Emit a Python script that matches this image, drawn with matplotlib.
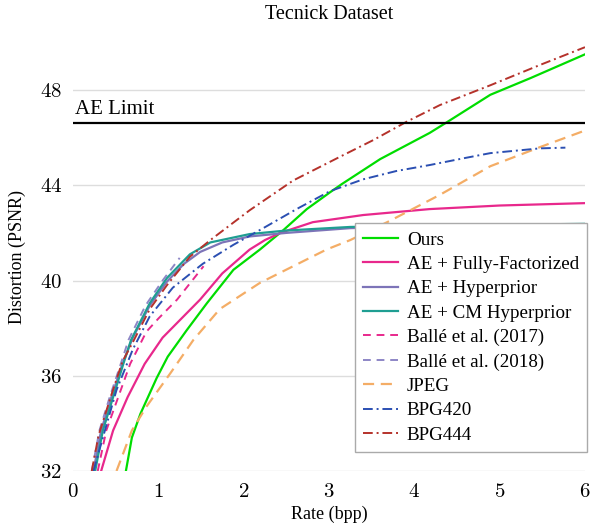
""" Rate-distortion curves on the Tecnick dataset
"""
import matplotlib
matplotlib.use('Agg')
import matplotlib.pyplot as plt
from matplotlib.ticker import FuncFormatter

# rate (bpp) / PSNR pairs
ours_rate = [0.62, 0.69, 0.79, 0.98, 1.11, 1.33, 1.57, 1.88, 2.19, 2.46, 2.74, 3.01, 3.07, 3.15, 3.60, 4.18, 4.36, 4.89, 5.36, 6.0]
ours_psnr = [32.0, 33.4, 34.4, 35.9, 36.8, 37.9, 39.05, 40.45, 41.3, 42.1, 43.0, 43.7, 43.85, 44.05, 45.1, 46.2, 46.6, 47.8, 48.5, 49.5]

ff_rate = [0.33, 0.47, 0.64, 0.84, 1.05, 1.49, 1.75, 2.07, 2.25, 2.43, 2.81, 3.4, 4.18, 5.0, 6.0]
ff_psnr = [32.0, 33.7, 35.1, 36.5, 37.6, 39.2, 40.3, 41.3, 41.7, 42.0, 42.45, 42.75, 43.0, 43.15, 43.25]

hyper_rate = [0.24, 0.33, 0.45, 0.58, 0.70, 0.90, 1.10, 1.30, 1.49, 1.75, 2.07, 2.5, 3.25, 4.5, 6.0]
hyper_psnr = [32.0, 33.7, 35.1, 36.5, 37.6, 38.95, 39.95, 40.7, 41.2, 41.6, 41.85, 42.0, 42.2, 42.3, 42.35]

cm_rate = [0.26, 0.35, 0.47, 0.59, 0.68, 0.90, 1.10, 1.37, 1.61, 2.07, 2.5, 3.25, 4.5, 6.0]
cm_psnr = [32.0, 33.7, 35.1, 36.5, 37.5, 39.05, 40.1, 41.1, 41.6, 41.95, 42.1, 42.25, 42.32, 42.38]

balle17_rate = [0.29, 0.39, 0.53, 0.67, 0.86, 1.0, 1.22, 1.53]
balle17_psnr = [32.0, 33.7, 35.1, 36.5, 37.85, 38.4, 39.2, 40.6]

balle18_rate = [0.22, 0.31, 0.43, 0.56, 0.65, 0.85, 1.05, 1.25]
balle18_psnr = [32.0, 33.7, 35.1, 36.5, 37.5, 38.95, 40.0, 40.95]

jpeg_rate = [0.51, 0.69, 0.86, 1.14, 1.41, 1.72, 2.19, 2.58, 2.97, 3.25, 3.71, 4.30, 4.89, 5.47, 6.0]
jpeg_psnr = [32.0, 33.7, 34.7, 36.1, 37.5, 38.8, 39.9, 40.6, 41.3, 41.7, 42.5, 43.6, 44.8, 45.6, 46.3]

bpg420_rate = [0.24, 0.35, 0.51, 0.70, 0.90, 1.17, 1.52, 1.88, 2.23, 2.62, 3.01, 3.40, 3.79, 4.18, 4.60, 4.89, 5.47, 5.77]
bpg420_psnr = [32.0, 33.4, 35.4, 37.1, 38.5, 39.7, 40.7, 41.5, 42.2, 43.0, 43.75, 44.25, 44.6, 44.85, 45.15, 45.35, 45.55, 45.58]

bpg444_rate = [0.22, 0.30, 0.45, 0.58, 0.70, 0.90, 1.10, 1.37, 1.61, 2.07, 2.58, 3.13, 3.52, 3.91, 4.30, 4.89, 5.47, 6.0]
bpg444_psnr = [32.0, 33.5, 35.2, 36.6, 37.4, 38.8, 39.8, 41.0, 41.7, 42.95, 44.2, 45.2, 45.9, 46.67, 47.37, 48.2, 49.05, 49.8]

ae_limit = 46.6

x_ticks = [0, 1, 2, 3, 4, 5, 6]
y_ticks = [32, 36, 40, 44, 48]

plt.rcParams['font.family'] = ['Liberation Serif', 'DejaVu Serif']
plt.rcParams['mathtext.fontset'] = 'cm'

fig = plt.figure(figsize=(5.92, 5.27), dpi=100)
ax = fig.add_axes([0.1233, 0.1063, 0.8649, 0.8132])

ax.plot(ours_rate, ours_psnr, color='#00dd00', lw=1.6, label='Ours')
ax.plot(ff_rate, ff_psnr, color='#e8288c', lw=1.6, label='AE + Fully-Factorized')
ax.plot(hyper_rate, hyper_psnr, color='#7d74b8', lw=1.6, label='AE + Hyperprior')
ax.plot(cm_rate, cm_psnr, color='#1f9e92', lw=1.6, label='AE + CM Hyperprior')
ax.plot(balle17_rate, balle17_psnr, color='#e8288c', lw=1.4, ls=(0, (4, 3)), label='Ballé et al. (2017)')
ax.plot(balle18_rate, balle18_psnr, color='#8d86c6', lw=1.4, ls=(0, (4, 3)), label='Ballé et al. (2018)')
ax.plot(jpeg_rate, jpeg_psnr, color='#f4ad66', lw=1.6, ls=(0, (5, 3)), label='JPEG')
ax.plot(bpg420_rate, bpg420_psnr, color='#2b4fb2', lw=1.4, ls=(0, (5, 2, 1, 2)), label='BPG420')
ax.plot(bpg444_rate, bpg444_psnr, color='#b5322b', lw=1.4, ls=(0, (5, 2, 1, 2)), label='BPG444')

ax.axhline(ae_limit, color='black', lw=1.6)
ax.text(0.02, ae_limit + 0.2, 'AE Limit', fontsize=15, va='bottom', ha='left')

ax.set_xlim(0, 6)
ax.set_ylim(32, 50)
ax.set_xticks(x_ticks)
ax.set_yticks(y_ticks)
ax.xaxis.set_major_formatter(FuncFormatter(lambda v, pos: r'$%d$' % v))
ax.yaxis.set_major_formatter(FuncFormatter(lambda v, pos: r'$%d$' % v))
ax.tick_params(length=0, labelsize=15)
ax.tick_params(axis='x', pad=9)
ax.tick_params(axis='y', pad=8)
ax.grid(axis='y', color='#dddddd', lw=1)
ax.set_axisbelow(True)
for s in ax.spines.values():
    s.set_visible(False)

ax.set_xlabel('Rate (bpp)', fontsize=13, labelpad=2)
ax.set_ylabel('Distortion (PSNR)', fontsize=13, labelpad=10)
ax.set_title('Tecnick Dataset', fontsize=14.5, pad=17)

leg = ax.legend(loc='lower right', bbox_to_anchor=(1.004, 0.045), borderaxespad=0,
                fontsize=13.7, fancybox=False, framealpha=1, edgecolor='#aaaaaa',
                handlelength=1.85, handletextpad=0.45, labelspacing=0.37,
                borderpad=0.42)
leg.get_frame().set_linewidth(1.0)

plt.savefig('out.png', dpi=100)
plt.close()
